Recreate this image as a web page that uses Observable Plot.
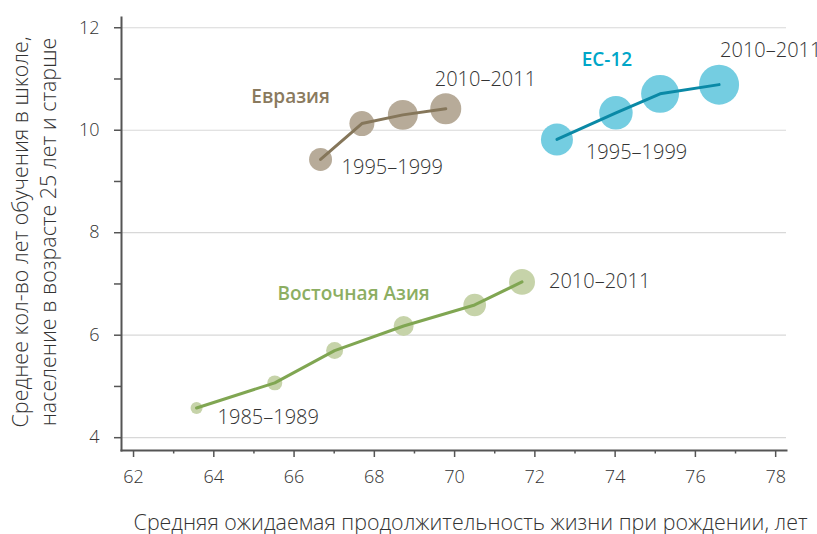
<!DOCTYPE html>
<html>
<head>
<meta charset="utf-8">
<script src="https://cdn.jsdelivr.net/npm/d3@7"></script>
<script src="https://cdn.jsdelivr.net/npm/@observablehq/plot@0.6"></script>
<style>
  html, body { margin: 0; padding: 0; background: #fff; }
  svg { font-family: "Open Sans", sans-serif; }
</style>
</head>
<body>
<div id="chart"></div>
<script>
// ---- data ----
const eurasiaLife   = [66.66, 67.69, 68.71, 69.78];
const eurasiaSchool = [9.43, 10.13, 10.30, 10.42];
const eurasiaWeight = [33, 39, 56, 60];

const ecLife   = [72.55, 74.02, 75.12, 76.59];
const ecSchool = [9.82, 10.34, 10.71, 10.89];
const ecWeight = [64, 70, 90, 100];

const eastAsiaLife   = [63.57, 65.52, 67.01, 68.73, 70.50, 71.68];
const eastAsiaSchool = [4.58, 5.07, 5.70, 6.18, 6.59, 7.04];
const eastAsiaWeight = [9, 14, 18, 25, 32, 42];

const seriesNames = ["Евразия", "ЕС-12", "Восточная Азия"];
const xTicksMajor = [62, 64, 66, 68, 70, 72, 74, 76, 78];
const xTicksMinor = [63, 65, 67, 69, 71, 73, 75, 77];
const yTicksMajor = [4, 6, 8, 10, 12];
const yTicksMinor = [5, 7, 9, 11];
const xLabel = "Средняя ожидаемая продолжительность жизни при рождении, лет";
const yLabel = "Среднее кол-во лет обучения в школе,\nнаселение в возрасте 25 лет и старше";

const toRows = (life, school, weight) => life.map((v, i) => ({life: v, school: school[i], weight: weight[i]}));
const eurasia = toRows(eurasiaLife, eurasiaSchool, eurasiaWeight);
const ec = toRows(ecLife, ecSchool, ecWeight);
const eastAsia = toRows(eastAsiaLife, eastAsiaSchool, eastAsiaWeight);

const first = a => [a[0]];
const last = a => [a[a.length - 1]];

const periodStyle = {x: "life", y: "school", fill: "#333", fontSize: 20, fontWeight: 300, textAnchor: "start", lineAnchor: "middle"};
const nameStyle = {x: "life", y: "school", fontSize: 19, fontWeight: 600, textAnchor: "middle", lineAnchor: "middle"};

const chart = Plot.plot({
  width: 817,
  height: 534,
  marginLeft: 121,
  marginRight: 31,
  marginTop: 17,
  marginBottom: 84,
  style: {fontSize: "18px", color: "#333", fontFamily: "'Open Sans', sans-serif", fontWeight: 300},
  x: {domain: [61.7, 78.27]},
  y: {domain: [3.75, 12.2]},
  r: {type: "sqrt", domain: [0, 100], range: [0, 20]},
  marks: [
    Plot.gridY(yTicksMajor, {stroke: "#d8d8d8", strokeOpacity: 1, strokeWidth: 1.2}),
    Plot.axisY(yTicksMajor, {tickSize: 7, tickPadding: 15, tickFormat: "d", stroke: "#555", strokeWidth: 1.5, label: null, fontSize: 18}),
    Plot.axisY(yTicksMinor, {tickSize: 7, tickFormat: () => "", stroke: "#555", strokeWidth: 1.5, label: null}),
    Plot.axisX(xTicksMajor, {tickSize: 7, tickPadding: 13, tickFormat: "d", stroke: "#555", strokeWidth: 1.5, label: null, fontSize: 18}),
    Plot.axisX(xTicksMinor, {tickSize: 3.5, tickFormat: () => "", stroke: "#555", strokeWidth: 1.5, label: null}),
    Plot.frame({anchor: "left", stroke: "#555", strokeWidth: 2}),
    Plot.frame({anchor: "bottom", stroke: "#555", strokeWidth: 2}),

    // circles
    Plot.dot(eurasia, {x: "life", y: "school", r: "weight", fill: "#b7ab99"}),
    Plot.dot(ec, {x: "life", y: "school", r: "weight", fill: "#74cde1"}),
    Plot.dot(eastAsia, {x: "life", y: "school", r: "weight", fill: "#c6d3a9"}),

    // lines
    Plot.line(eurasia, {x: "life", y: "school", stroke: "#85765a", strokeWidth: 3}),
    Plot.line(ec, {x: "life", y: "school", stroke: "#0a89a6", strokeWidth: 3}),
    Plot.line(eastAsia, {x: "life", y: "school", stroke: "#80a652", strokeWidth: 3}),

    // period labels
    Plot.text(first(eurasia), {...periodStyle, text: () => "1995–1999", dx: 21, dy: 8}),
    Plot.text(last(eurasia), {...periodStyle, text: () => "2010–2011", dx: -11, dy: -29}),
    Plot.text(first(ec), {...periodStyle, text: () => "1995–1999", dx: 29, dy: 13}),
    Plot.text(last(ec), {...periodStyle, text: () => "2010–2011", dx: 1, dy: -34}),
    Plot.text(first(eastAsia), {...periodStyle, text: () => "1985–1989", dx: 21, dy: 10}),
    Plot.text(last(eastAsia), {...periodStyle, text: () => "2010–2011", dx: 27, dy: 0}),

    // series names
    Plot.text(first(eurasia), {...nameStyle, text: () => seriesNames[0], fill: "#8a7a5e", dx: -30, dy: -63}),
    Plot.text(first(ec), {...nameStyle, text: () => seriesNames[1], fill: "#00a6c8", dx: 50, dy: -80}),
    Plot.text(first(eastAsia), {...nameStyle, text: () => seriesNames[2], fill: "#8cae62", dx: 157, dy: -114}),

    // axis titles
    Plot.text([xLabel], {text: d => d, frameAnchor: "bottom-right", textAnchor: "end", lineAnchor: "middle", dx: 21, dy: 73, fontSize: 21.4, fontWeight: 300, fill: "#333"}),
    Plot.text([yLabel], {text: d => d, frameAnchor: "left", rotate: -90, textAnchor: "middle", lineAnchor: "middle", lineHeight: 1.3, dx: -88, dy: -2, fontSize: 21.5, fontWeight: 300, fill: "#333"})
  ]
});
document.getElementById("chart").appendChild(chart);
</script>
</body>
</html>
